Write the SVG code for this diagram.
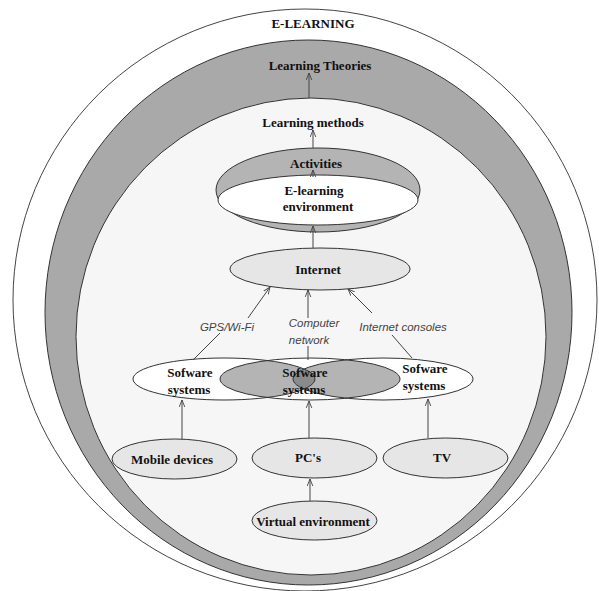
<svg xmlns="http://www.w3.org/2000/svg" width="599" height="591" viewBox="0 0 599 591">
<style>
.lbl{font-family:"Liberation Serif","Times New Roman",serif;font-weight:bold;font-size:13px;fill:#111;text-anchor:middle}
.it{font-family:"Liberation Sans",Arial,sans-serif;font-style:italic;font-size:11.5px;fill:#444;text-anchor:middle}
.node{fill:#e6e6e6;stroke:#333;stroke-width:1}
.ln{stroke:#444;stroke-width:1;fill:none}
.arr{stroke:#444;stroke-width:1;fill:none;marker-end:url(#ah)}
</style>
<defs>
<marker id="ah" viewBox="0 0 10 10" refX="10" refY="5" markerWidth="7" markerHeight="7" orient="auto" markerUnits="userSpaceOnUse">
<path d="M0,1 L10,5 L0,9" fill="none" stroke="#444" stroke-width="1.3"/>
</marker>
<clipPath id="cL"><ellipse cx="224" cy="379" rx="91" ry="21"/></clipPath>
<clipPath id="cR"><ellipse cx="383" cy="379" rx="90" ry="21"/></clipPath>
</defs>
<rect width="599" height="591" fill="#fff"/>
<g id="elearning">
<ellipse cx="305" cy="300" rx="292" ry="291" fill="#fff" stroke="#444" stroke-width="1"/>
<text class="lbl" x="313" y="28">E-LEARNING</text>
</g>
<g id="learning-theories">
<ellipse cx="308.5" cy="312.5" rx="263.5" ry="272.5" fill="#a9a9a9" stroke="#333" stroke-width="1"/>
<text class="lbl" x="320" y="70">Learning Theories</text>
</g>
<g id="learning-methods">
<ellipse cx="311" cy="336.5" rx="235" ry="238.5" fill="#f6f6f6" stroke="#333" stroke-width="1"/>
<text class="lbl" x="313" y="127">Learning methods</text>
</g>
<g id="activities">
<ellipse cx="318" cy="190" rx="102" ry="42" fill="#b4b4b4" stroke="#333" stroke-width="1"/>
<text class="lbl" x="316" y="168">Activities</text>
</g>
<g id="elearning-environment">
<ellipse cx="318" cy="200" rx="100" ry="25" fill="#fff" stroke="#333" stroke-width="1"/>
<text class="lbl" x="314" y="195">E-learning</text>
<text class="lbl" x="318" y="211">environment</text>
</g>
<g id="internet">
<ellipse class="node" cx="320" cy="269" rx="90" ry="21"/>
<text class="lbl" x="318" y="274">Internet</text>
</g>
<g id="software-systems">
<ellipse cx="224" cy="379" rx="91" ry="21" fill="#fff"/>
<ellipse cx="310" cy="379" rx="90" ry="21" fill="#fff"/>
<ellipse cx="383" cy="379" rx="90" ry="21" fill="#fff"/>
<ellipse cx="310" cy="379" rx="90" ry="21" fill="#b4b4b4" clip-path="url(#cL)"/>
<ellipse cx="310" cy="379" rx="90" ry="21" fill="#b4b4b4" clip-path="url(#cR)"/>
<g clip-path="url(#cL)"><ellipse cx="383" cy="379" rx="90" ry="21" fill="#8a8a8a"/></g>
<ellipse cx="224" cy="379" rx="91" ry="21" fill="none" stroke="#333"/>
<ellipse cx="310" cy="379" rx="90" ry="21" fill="none" stroke="#333"/>
<ellipse cx="383" cy="379" rx="90" ry="21" fill="none" stroke="#333"/>
<text class="lbl" x="190" y="377">Sofware</text>
<text class="lbl" x="189" y="394">systems</text>
<text class="lbl" x="305" y="377">Sofware</text>
<text class="lbl" x="304" y="394">systems</text>
<text class="lbl" x="425" y="373">Sofware</text>
<text class="lbl" x="424" y="390">systems</text>
</g>
<g id="mobile-devices">
<ellipse class="node" cx="174.5" cy="459" rx="62.5" ry="20"/>
<text class="lbl" x="172" y="464">Mobile devices</text>
</g>
<g id="pcs">
<ellipse class="node" cx="314.5" cy="458" rx="62.5" ry="20"/>
<text class="lbl" x="308" y="462">PC's</text>
</g>
<g id="tv">
<ellipse class="node" cx="445.5" cy="458" rx="62.5" ry="20"/>
<text class="lbl" x="442" y="462">TV</text>
</g>
<g id="virtual-environment">
<ellipse class="node" cx="314.5" cy="520.5" rx="62.5" ry="19.5"/>
<text class="lbl" x="313" y="526">Virtual environment</text>
</g>
<g id="connectors">
<line class="arr" x1="309" y1="98" x2="309" y2="73"/>
<line class="arr" x1="313" y1="148" x2="313" y2="130"/>
<line class="arr" x1="313" y1="177" x2="313" y2="170"/>
<line class="arr" x1="313" y1="248" x2="313" y2="226"/>
<line class="ln" x1="193" y1="360" x2="220" y2="333"/>
<line class="arr" x1="248" y1="318" x2="270" y2="287"/>
<line class="ln" x1="308" y1="346" x2="308" y2="360"/>
<line class="arr" x1="308" y1="318" x2="308" y2="290"/>
<line class="ln" x1="392" y1="335" x2="412" y2="358"/>
<line class="arr" x1="372" y1="313" x2="348" y2="289"/>
<line class="arr" x1="182" y1="439" x2="182" y2="400"/>
<line class="arr" x1="309" y1="438" x2="309" y2="401"/>
<line class="arr" x1="428" y1="438" x2="428" y2="399"/>
<line class="arr" x1="310" y1="501" x2="310" y2="479"/>
<text class="it" x="227" y="331">GPS/Wi-Fi</text>
<text class="it" x="314" y="327">Computer</text>
<text class="it" x="309" y="344">network</text>
<text class="it" x="403" y="331">Internet consoles</text>
</g>
</svg>
